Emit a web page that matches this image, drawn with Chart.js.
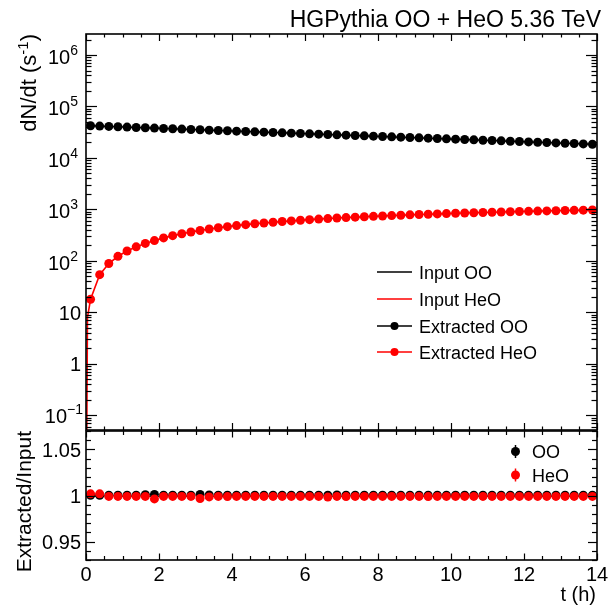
<!DOCTYPE html>
<html>
<head>
<meta charset="utf-8">
<script src="https://cdn.jsdelivr.net/npm/chart.js@4"></script>
<style>
  html, body { margin: 0; padding: 0; background: #ffffff; }
  #wrap { position: relative; width: 608px; height: 606px; overflow: hidden; }
  #wrap canvas { position: absolute; left: 0; top: 0; }
</style>
</head>
<body>
<div id="wrap">
  <canvas id="rate" width="608" height="606"></canvas>
  <canvas id="ratio" width="608" height="606"></canvas>
</div>
<script>
// Bin centres in hours
const tHours = [
  0.125, 0.375, 0.625, 0.875, 1.125, 1.375, 1.625, 1.875, 2.125, 2.375,
  2.625, 2.875, 3.125, 3.375, 3.625, 3.875, 4.125, 4.375, 4.625, 4.875,
  5.125, 5.375, 5.625, 5.875, 6.125, 6.375, 6.625, 6.875, 7.125, 7.375,
  7.625, 7.875, 8.125, 8.375, 8.625, 8.875, 9.125, 9.375, 9.625, 9.875,
  10.125, 10.375, 10.625, 10.875, 11.125, 11.375, 11.625, 11.875, 12.125, 12.375,
  12.625, 12.875, 13.125, 13.375, 13.625, 13.875
];

// Input rates dN/dt (s^-1)
const inputOO = [
  42200, 41570, 40950, 40340, 39740, 39150, 38570, 37990, 37430, 36870,
  36320, 35780, 35250, 34720, 34200, 33690, 33190, 32700, 32210, 31730,
  31260, 30790, 30330, 29880, 29440, 29000, 28570, 28140, 27720, 27310,
  26900, 26500, 26110, 25720, 25340, 24960, 24590, 24220, 23860, 23500,
  23150, 22810, 22470, 22130, 21800, 21480, 21160, 20840, 20530, 20230,
  19920, 19630, 19340, 19050, 18760, 18480
];
const inputHeO = [
  18, 54, 89, 123, 156, 188, 219, 249, 280, 310,
  338, 365, 392, 417, 441, 464, 486, 507, 527, 546,
  565, 583, 600, 617, 634, 650, 666, 681, 695, 709,
  722, 735, 748, 761, 773, 785, 797, 809, 820, 831,
  842, 853, 863, 873, 883, 893, 902, 911, 920, 929,
  937, 945, 953, 961, 968, 975
];
// HeO input rise right after t = 0 (starts far below the axis minimum)
const heoRiseT = [0, 0.04];
const heoRiseRate = [0.0001, 8];

// Extracted / Input
const ratioOO = [
  1.0003, 1.0003, 1.0003, 1.0003, 1.0003, 1.0004, 1.0008, 1.0012, 1.0003, 1.0003,
  1.0003, 1.0003, 1.0012, 1.0005, 1.0003, 1.0003, 1.0003, 1.0003, 1.0003, 1.0003,
  1.0003, 1.0003, 1.0003, 1.0003, 1.0003, 1.0003, 1.0003, 1.0006, 1.0003, 1.0003,
  1.0003, 1.0003, 1.0003, 1.0003, 1.0003, 1.0003, 1.0003, 1.0003, 1.0003, 1.0003,
  1.0003, 1.0003, 1.0003, 1.0003, 1.0003, 1.0003, 1.0003, 1.0003, 1.0003, 1.0003,
  1.0003, 1.0003, 1.0003, 1.0003, 1.0003, 1.0003
];
const ratioHeO = [
  1.0018, 1.0018, 0.9990, 0.9990, 0.9990, 0.9990, 0.9990, 0.9963, 0.9990, 0.9990,
  0.9990, 0.9990, 0.9968, 0.9985, 0.9990, 0.9988, 0.9990, 0.9990, 0.9990, 0.9990,
  0.9990, 0.9990, 0.9990, 0.9990, 0.9990, 0.9990, 0.9983, 0.9990, 0.9988, 0.9990,
  0.9990, 0.9990, 0.9990, 0.9990, 0.9990, 0.9990, 0.9990, 0.9988, 0.9990, 0.9990,
  0.9990, 0.9990, 0.9990, 0.9990, 0.9990, 0.9990, 0.9990, 0.9990, 0.9990, 0.9990,
  0.9990, 0.9990, 0.9990, 0.9990, 0.9990, 0.9990
];

// Axis tick labels
const xTickLabels = [0, 2, 4, 6, 8, 10, 12, 14];
const rateDecades = [-1, 0, 1, 2, 3, 4, 5, 6];
const ratioTickLabels = [0.95, 1, 1.05];

const titleText = 'HGPythia OO + HeO 5.36 TeV';
const rateLegend = ['Input OO', 'Input HeO', 'Extracted OO', 'Extracted HeO'];
const ratioLegend = ['OO', 'HeO'];

const FONT = '"Liberation Sans", Arial, Helvetica, sans-serif';
const RED = '#ff0000';
const BLACK = '#000000';

function seg(ctx, x1, y1, x2, y2) {
  ctx.beginPath(); ctx.moveTo(x1, y1); ctx.lineTo(x2, y2); ctx.stroke();
}
function dot(ctx, x, y, r, color) {
  ctx.fillStyle = color;
  ctx.beginPath(); ctx.arc(x, y, r, 0, Math.PI * 2); ctx.fill();
}
// Writes a sequence of text runs (some raised as superscripts) on one baseline.
function textRuns(ctx, runs, x, y, align) {
  let total = 0;
  runs.forEach(r => { ctx.font = r.size + 'px ' + FONT; r.w = ctx.measureText(r.text).width; total += r.w; });
  let cx = align === 'right' ? x - total : (align === 'center' ? x - total / 2 : x);
  ctx.textAlign = 'left';
  ctx.textBaseline = 'alphabetic';
  runs.forEach(r => {
    ctx.font = r.size + 'px ' + FONT;
    ctx.fillText(r.text, cx, y - (r.raise || 0));
    cx += r.w;
  });
}
function drawXTicks(ctx, sx, area, majorLen, minorLen) {
  for (let v = 0; v <= 14.0001; v += 0.5) {
    const x = Math.round(sx.getPixelForValue(v)) + 0.5;
    const len = (Math.abs(v / 2 - Math.round(v / 2)) < 1e-6) ? majorLen : minorLen;
    seg(ctx, x, area.bottom, x, area.bottom - len);
    seg(ctx, x, area.top, x, area.top + len);
  }
}

const ratePlugin = {
  id: 'rateDecor',
  afterDraw(chart) {
    const ctx = chart.ctx, a = chart.chartArea;
    const sx = chart.scales.x, sy = chart.scales.y;
    ctx.save();
    ctx.strokeStyle = BLACK; ctx.fillStyle = BLACK;
    ctx.lineWidth = 1.6;
    ctx.strokeRect(a.left, a.top, a.right - a.left, a.bottom - a.top);
    ctx.lineWidth = 1.2;
    drawXTicks(ctx, sx, a, 7, 3.5);
    // log ticks on both vertical edges
    for (let d = -2; d <= 6; d++) {
      for (let m = 1; m <= 9; m++) {
        const v = m * Math.pow(10, d);
        if (v < sy.min || v > sy.max) continue;
        const y = Math.round(sy.getPixelForValue(v)) + 0.5;
        const len = m === 1 ? 11 : 5.5;
        seg(ctx, a.left, y, a.left + len, y);
        seg(ctx, a.right, y, a.right - len, y);
      }
    }
    // y tick labels
    ctx.fillStyle = BLACK;
    rateDecades.forEach(d => {
      const y = sy.getPixelForValue(Math.pow(10, d)) + 7.5;
      let runs;
      if (d === 0) runs = [{ text: '1', size: 20 }];
      else if (d === 1) runs = [{ text: '10', size: 20 }];
      else runs = [{ text: '10', size: 20 }, { text: d < 0 ? '\u2212' + (-d) : String(d), size: 14, raise: 9 }];
      const right = d >= 2 ? 78 : 81;
      textRuns(ctx, runs, d < 0 ? 83 : right, d >= 2 ? y + 1.5 : y, 'right');
    });
    // title
    textRuns(ctx, [{ text: titleText, size: 23 }], 601, 27, 'right');
    // y axis title (rotated)
    ctx.save();
    ctx.translate(36, 34);
    ctx.rotate(-Math.PI / 2);
    textRuns(ctx, [{ text: 'dN/dt (s', size: 22 }, { text: '-1', size: 15, raise: 8 }, { text: ')', size: 22 }], 0, 0, 'right');
    ctx.restore();
    // legend
    const rows = [272, 299, 326, 352];
    const lx1 = 377, lx2 = 412, tx = 419;
    const colors = [BLACK, RED, BLACK, RED];
    rows.forEach((y, i) => {
      ctx.strokeStyle = colors[i];
      ctx.lineWidth = 1.6;
      seg(ctx, lx1, y, lx2, y);
      if (i >= 2) dot(ctx, (lx1 + lx2) / 2, y, 4, colors[i]);
      ctx.fillStyle = BLACK;
      textRuns(ctx, [{ text: rateLegend[i], size: 18 }], tx, y + 6.5, 'left');
    });
    ctx.restore();
  }
};

const ratioPlugin = {
  id: 'ratioDecor',
  beforeDatasetsDraw(chart) {
    const ctx = chart.ctx, a = chart.chartArea, sy = chart.scales.y;
    const y = Math.round(sy.getPixelForValue(1)) + 0.5;
    ctx.save();
    ctx.strokeStyle = '#333333';
    ctx.lineWidth = 1;
    ctx.setLineDash([4, 3]);
    seg(ctx, a.left, y, a.right, y);
    ctx.restore();
  },
  afterDraw(chart) {
    const ctx = chart.ctx, a = chart.chartArea;
    const sx = chart.scales.x, sy = chart.scales.y;
    ctx.save();
    ctx.strokeStyle = BLACK; ctx.fillStyle = BLACK;
    ctx.lineWidth = 1.6;
    ctx.strokeRect(a.left, a.top, a.right - a.left, a.bottom - a.top);
    ctx.lineWidth = 1.2;
    drawXTicks(ctx, sx, a, 6.5, 4);
    for (let k = 93; k <= 107; k++) {
      const v = k / 100;
      const y = Math.round(sy.getPixelForValue(v)) + 0.5;
      const len = (k % 5 === 0) ? 9 : 5;
      seg(ctx, a.left, y, a.left + len, y);
      seg(ctx, a.right, y, a.right - len, y);
    }
    ratioTickLabels.forEach(v => {
      textRuns(ctx, [{ text: String(v), size: 20 }], 81, sy.getPixelForValue(v) + 7.5, 'right');
    });
    xTickLabels.forEach(v => {
      textRuns(ctx, [{ text: String(v), size: 20 }], sx.getPixelForValue(v), 580.5, 'center');
    });
    textRuns(ctx, [{ text: 't (h)', size: 20 }], 596, 601, 'right');
    ctx.save();
    ctx.translate(31, 431);
    ctx.rotate(-Math.PI / 2);
    textRuns(ctx, [{ text: 'Extracted/Input', size: 21 }], 0, 0, 'right');
    ctx.restore();
    // legend with error-bar markers
    const rows = [451.5, 475];
    const mx = 515.5, tx = 532;
    const colors = [BLACK, RED];
    rows.forEach((y, i) => {
      ctx.strokeStyle = colors[i];
      ctx.lineWidth = 1.5;
      seg(ctx, mx, y - 6.5, mx, y + 6.5);
      dot(ctx, mx, y, 4.5, colors[i]);
      ctx.fillStyle = BLACK;
      textRuns(ctx, [{ text: ratioLegend[i], size: 18 }], tx, y + 6.5, 'left');
    });
    ctx.restore();
  }
};

const pts = (xs, ys) => xs.map((x, i) => ({ x: x, y: ys[i] }));

new Chart(document.getElementById('rate'), {
  type: 'scatter',
  data: {
    datasets: [
      { label: 'Extracted HeO', data: pts(tHours, inputHeO.map((v, i) => v * ratioHeO[i])),
        backgroundColor: RED, borderWidth: 0, pointRadius: 4.5, showLine: false, order: 0 },
      { label: 'Extracted OO', data: pts(tHours, inputOO.map((v, i) => v * ratioOO[i])),
        backgroundColor: BLACK, borderWidth: 0, pointRadius: 4.5, showLine: false, order: 1 },
      { label: 'Input HeO', data: pts(heoRiseT.concat(tHours), heoRiseRate.concat(inputHeO)),
        borderColor: RED, borderWidth: 1.6, pointRadius: 0, showLine: true, tension: 0, order: 2 },
      { label: 'Input OO', data: pts(tHours, inputOO),
        borderColor: BLACK, borderWidth: 1.6, pointRadius: 0, showLine: true, tension: 0, order: 3 }
    ]
  },
  options: {
    responsive: false, animation: false, devicePixelRatio: 1,
    layout: { padding: { left: 86, top: 34, right: 11, bottom: 176 } },
    plugins: { legend: { display: false }, tooltip: { enabled: false } },
    scales: {
      x: { type: 'linear', min: 0, max: 14, display: false },
      y: { type: 'logarithmic', min: 0.0519, max: 2.56e6, display: false }
    }
  },
  plugins: [ratePlugin]
});

new Chart(document.getElementById('ratio'), {
  type: 'scatter',
  data: {
    datasets: [
      { label: 'HeO', data: pts(tHours, ratioHeO),
        backgroundColor: RED, borderWidth: 0, pointRadius: 4.5, showLine: false, order: 0 },
      { label: 'OO', data: pts(tHours, ratioOO),
        backgroundColor: BLACK, borderWidth: 0, pointRadius: 4.5, showLine: false, order: 1 }
    ]
  },
  options: {
    responsive: false, animation: false, devicePixelRatio: 1,
    layout: { padding: { left: 86, top: 431, right: 11, bottom: 46 } },
    plugins: { legend: { display: false }, tooltip: { enabled: false } },
    scales: {
      x: { type: 'linear', min: 0, max: 14, display: false },
      y: { type: 'linear', min: 0.93, max: 1.07, display: false }
    }
  },
  plugins: [ratioPlugin]
});
</script>
</body>
</html>
